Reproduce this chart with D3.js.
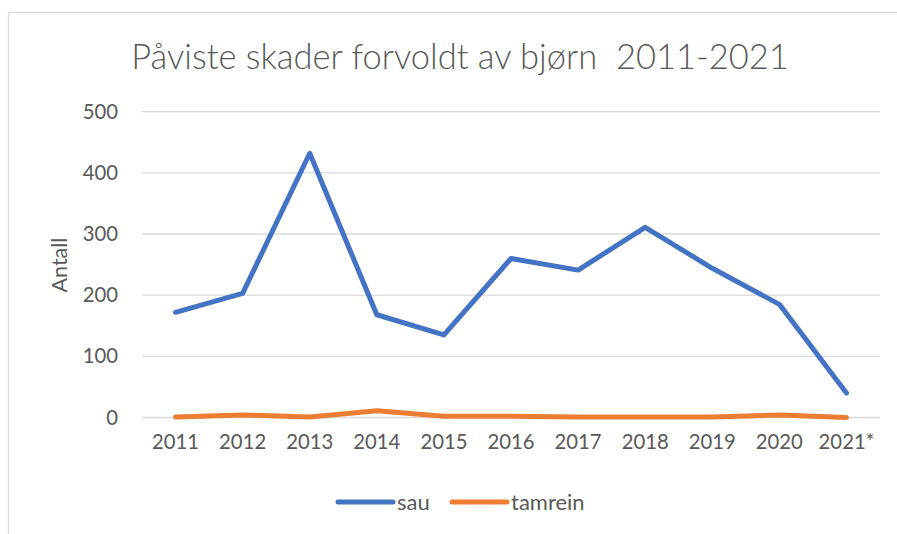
<!DOCTYPE html>
<html>
<head>
<meta charset="utf-8">
<script src="https://cdn.jsdelivr.net/npm/d3@7"></script>
<style>
  body { margin: 0; background: #fff; }
  svg { display: block; font-family: Lato, 'Open Sans', sans-serif; }
</style>
</head>
<body>
<svg id="chart" width="897" height="534"></svg>
<script>
const years = ['2011', '2012', '2013', '2014', '2015', '2016', '2017', '2018', '2019', '2020', '2021*'];
const sau = [172, 203, 432, 168, 135, 260, 241, 311, 244, 185, 40];
const tamrein = [1, 4, 1, 11, 2, 2, 1, 1, 1, 4, 0];
const yTicks = [0, 100, 200, 300, 400, 500];
const seriesNames = ['sau', 'tamrein'];
const colors = ['#4472C4', '#ED7D31'];

const svg = d3.select('#chart');

// frame of the chart area (right and bottom edges fall outside the picture)
svg.append('rect')
  .attr('x', 8.5).attr('y', 12.5)
  .attr('width', 1000).attr('height', 1000)
  .attr('fill', 'none')
  .attr('stroke', '#D9D9D9')
  .attr('stroke-width', 1.3);

const x = d3.scaleBand().domain(years).range([142, 880]);
const y = d3.scaleLinear().domain([0, 500]).range([417.5, 111.7]);

svg.append('text')
  .attr('x', 460).attr('y', 69)
  .attr('text-anchor', 'middle')
  .attr('fill', '#595959')
  .attr('font-size', 34.5)
  .attr('font-weight', 300)
  .style('white-space', 'pre')
  .text('Påviste skader forvoldt av bjørn  2011-2021');

// gridlines
svg.append('g')
  .selectAll('line')
  .data(yTicks)
  .join('line')
  .attr('x1', 142).attr('x2', 880)
  .attr('y1', d => y(d)).attr('y2', d => y(d))
  .attr('stroke', '#D9D9D9')
  .attr('stroke-width', 1.3);

const yAxis = svg.append('g')
  .attr('transform', 'translate(128,0)')
  .call(d3.axisLeft(y).tickValues(yTicks).tickSize(0).tickPadding(0));
yAxis.select('.domain').remove();
yAxis.selectAll('text')
  .attr('fill', '#595959')
  .attr('font-size', 20.3)
  .attr('font-family', 'Lato, sans-serif')
  .attr('x', -10);

const xAxis = svg.append('g')
  .attr('transform', 'translate(0,434)')
  .call(d3.axisBottom(x).tickSize(0).tickPadding(0));
xAxis.select('.domain').remove();
xAxis.selectAll('text')
  .attr('fill', '#595959')
  .attr('font-size', 20.3)
  .attr('font-family', 'Lato, sans-serif')
  .attr('dy', '0.72em');

svg.append('text')
  .attr('transform', 'translate(67,265) rotate(-90)')
  .attr('text-anchor', 'middle')
  .attr('fill', '#595959')
  .attr('font-size', 21.5)
  .text('Antall');

const line = d3.line()
  .x((d, i) => x(years[i]) + x.bandwidth() / 2)
  .y(d => y(d));

[sau, tamrein].forEach((vals, k) => {
  svg.append('path')
    .datum(vals)
    .attr('fill', 'none')
    .attr('stroke', colors[k])
    .attr('stroke-width', 5)
    .attr('stroke-linejoin', 'round')
    .attr('stroke-linecap', 'round')
    .attr('d', line);
});

// legend
const legendX = [338, 452];
const legend = svg.append('g')
  .selectAll('g')
  .data(seriesNames)
  .join('g')
  .attr('transform', (d, i) => `translate(${legendX[i]},502)`);
legend.append('line')
  .attr('x1', 0).attr('x2', 55)
  .attr('stroke', (d, i) => colors[i])
  .attr('stroke-width', 5)
  .attr('stroke-linecap', 'round');
legend.append('text')
  .attr('x', 59)
  .attr('dy', '0.35em')
  .attr('fill', '#595959')
  .attr('font-size', 22)
  .text(d => d);
</script>
</body>
</html>
